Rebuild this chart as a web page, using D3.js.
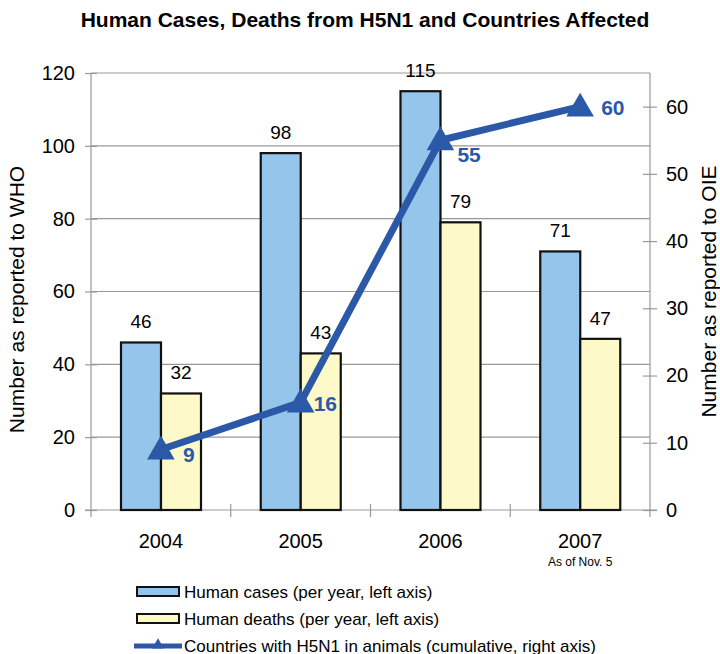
<!DOCTYPE html>
<html>
<head>
<meta charset="utf-8">
<script src="https://cdn.jsdelivr.net/npm/d3@7"></script>
<style>
  body { margin: 0; background: #fff; }
  text { font-family: "Liberation Sans", Arial, sans-serif; }
</style>
</head>
<body>
<div id="chart"></div>
<script>
// data
const years = ['2004', '2005', '2006', '2007']
const humanCases = [46, 98, 115, 71]
const humanDeaths = [32, 43, 79, 47]
const countries = [9, 16, 55, 60]
const leftTicks = [0, 20, 40, 60, 80, 100, 120]
const rightTicks = [0, 10, 20, 30, 40, 50, 60]
const seriesNames = ['Human cases (per year, left axis)', 'Human deaths (per year, left axis)',
  'Countries with H5N1 in animals (cumulative, right axis)']

const width = 720, height = 654
const plotLeft = 91, plotRight = 650, plotTop = 73, plotBottom = 510
const blue = '#95c5ea', yellow = '#fdf9c8', lineBlue = '#2b59a8', grid = '#999'

const svg = d3.select('#chart').append('svg')
  .attr('width', width)
  .attr('height', height)

const x = d3.scaleBand().domain(years).range([plotLeft, plotRight])
const sub = d3.scaleBand().domain(['cases', 'deaths']).range([30, 110])
const yL = d3.scaleLinear().domain([0, 120]).range([plotBottom, plotTop])
const yR = d3.scaleLinear().domain([0, 65]).range([plotBottom, plotTop])

// title
svg.append('text')
  .attr('x', 365).attr('y', 27)
  .attr('text-anchor', 'middle')
  .style('font-size', '21px').style('font-weight', 'bold')
  .text('Human Cases, Deaths from H5N1 and Countries Affected')

// grid lines
svg.append('g').selectAll('line')
  .data(leftTicks.slice(1))
  .enter().append('line')
  .attr('x1', plotLeft).attr('x2', plotRight)
  .attr('y1', d => yL(d)).attr('y2', d => yL(d))
  .attr('stroke', grid).attr('stroke-width', 1.2)

// left axis
const axL = svg.append('g')
  .attr('transform', `translate(${plotLeft + 6},0)`)
  .call(d3.axisLeft(yL).tickValues(leftTicks).tickSize(12).tickPadding(10))
axL.select('.domain').remove()
axL.selectAll('line').attr('stroke', grid).attr('stroke-width', 1.2)
axL.selectAll('text').style('font-size', '20px').attr('fill', '#000')

// right axis
const axR = svg.append('g')
  .attr('transform', `translate(${plotRight - 7},0)`)
  .call(d3.axisRight(yR).tickValues(rightTicks).tickSize(14).tickPadding(9))
axR.select('.domain').remove()
axR.selectAll('line').attr('stroke', grid).attr('stroke-width', 1.2)
axR.selectAll('text').style('font-size', '20px').attr('fill', '#000')

// axis lines
svg.append('line').attr('x1', plotLeft).attr('x2', plotLeft).attr('y1', plotTop).attr('y2', plotBottom + 7)
  .attr('stroke', grid).attr('stroke-width', 1.2)
svg.append('line').attr('x1', plotRight).attr('x2', plotRight).attr('y1', plotTop).attr('y2', plotBottom + 7)
  .attr('stroke', grid).attr('stroke-width', 1.2)
svg.append('line').attr('x1', plotLeft - 6).attr('x2', plotRight + 7).attr('y1', plotBottom).attr('y2', plotBottom)
  .attr('stroke', grid).attr('stroke-width', 1.2)

// category ticks
svg.append('g').selectAll('line')
  .data(years.slice(1))
  .enter().append('line')
  .attr('x1', d => x(d)).attr('x2', d => x(d))
  .attr('y1', plotBottom - 6).attr('y2', plotBottom + 7)
  .attr('stroke', grid).attr('stroke-width', 1.2)

// category labels
svg.append('g').selectAll('text')
  .data(years)
  .enter().append('text')
  .attr('x', d => x(d) + x.bandwidth() / 2)
  .attr('y', 548)
  .attr('text-anchor', 'middle')
  .style('font-size', '20px')
  .text(d => d)

svg.append('text')
  .attr('x', x('2007') + x.bandwidth() / 2).attr('y', 566)
  .attr('text-anchor', 'middle')
  .style('font-size', '12px')
  .text('As of Nov. 5')

// axis titles
svg.append('text')
  .attr('transform', `translate(24,${(plotTop + plotBottom) / 2 + 8}) rotate(-90)`)
  .attr('text-anchor', 'middle')
  .style('font-size', '21px')
  .text('Number as reported to WHO')

svg.append('text')
  .attr('transform', `translate(716,${(plotTop + plotBottom) / 2}) rotate(-90)`)
  .attr('text-anchor', 'middle')
  .style('font-size', '21px')
  .text('Number as reported to OIE')

// bars
const bars = [
  { key: 'cases', values: humanCases, fill: blue },
  { key: 'deaths', values: humanDeaths, fill: yellow }
]
bars.forEach(s => {
  svg.append('g').selectAll('rect')
    .data(s.values)
    .enter().append('rect')
    .attr('x', (d, i) => x(years[i]) + sub(s.key))
    .attr('y', d => yL(d))
    .attr('width', sub.bandwidth())
    .attr('height', d => plotBottom - yL(d))
    .attr('fill', s.fill)
    .attr('stroke', '#111').attr('stroke-width', 2.2)

  svg.append('g').selectAll('text')
    .data(s.values)
    .enter().append('text')
    .attr('x', (d, i) => x(years[i]) + sub(s.key) + sub.bandwidth() / 2)
    .attr('y', d => yL(d) - 14)
    .attr('text-anchor', 'middle')
    .style('font-size', '19px')
    .text(d => d)
})

// line
const cx = (d, i) => x(years[i]) + x.bandwidth() / 2
svg.append('path')
  .datum(countries)
  .attr('fill', 'none')
  .attr('stroke', lineBlue)
  .attr('stroke-width', 7)
  .attr('stroke-linejoin', 'round')
  .attr('d', d3.line().x(cx).y(d => yR(d)))

const tri = d3.symbol().type(d3.symbolTriangle).size(330)
svg.append('g').selectAll('path')
  .data(countries)
  .enter().append('path')
  .attr('transform', (d, i) => `translate(${cx(d, i)},${yR(d) + 2})`)
  .attr('d', tri)
  .attr('fill', lineBlue)

const labelDx = [22, 13, 17, 21]
const labelDy = [13, 9, 22, 8]
svg.append('g').selectAll('text')
  .data(countries)
  .enter().append('text')
  .attr('x', (d, i) => cx(d, i) + labelDx[i])
  .attr('y', (d, i) => yR(d) + labelDy[i])
  .attr('fill', lineBlue)
  .style('font-size', '21px').style('font-weight', 'bold')
  .text(d => d)

// legend
const leg = svg.append('g')
const rowY = [598, 625, 652]
;[blue, yellow].forEach((c, i) => {
  leg.append('rect')
    .attr('x', 137).attr('y', rowY[i] - 11)
    .attr('width', 42).attr('height', 9)
    .attr('fill', c).attr('stroke', '#111').attr('stroke-width', 2)
})
leg.append('line')
  .attr('x1', 134).attr('x2', 182)
  .attr('y1', rowY[2] - 6).attr('y2', rowY[2] - 6)
  .attr('stroke', lineBlue).attr('stroke-width', 5)
leg.append('path')
  .attr('transform', `translate(158,${rowY[2] - 7})`)
  .attr('d', d3.symbol().type(d3.symbolTriangle).size(60))
  .attr('fill', lineBlue)
leg.selectAll('text.lab')
  .data(seriesNames)
  .enter().append('text')
  .attr('class', 'lab')
  .attr('x', 184)
  .attr('y', (d, i) => rowY[i])
  .style('font-size', '17px')
  .text(d => d)
</script>
</body>
</html>
